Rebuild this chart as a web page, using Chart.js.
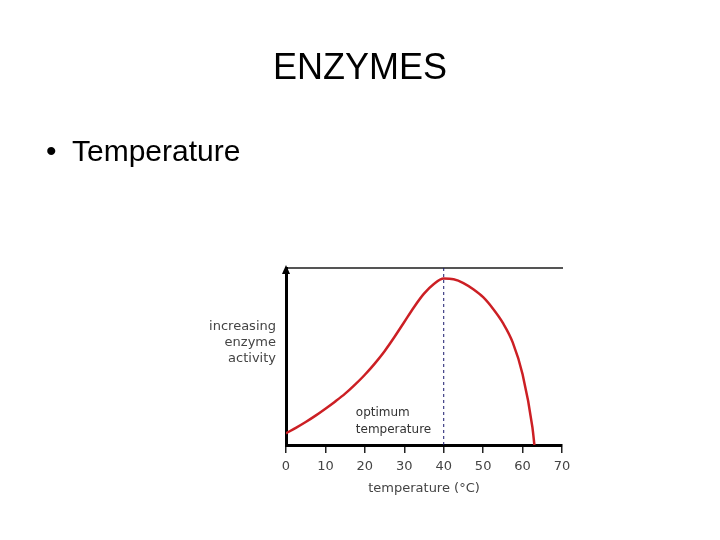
<!DOCTYPE html>
<html>
<head>
<meta charset="utf-8">
<script src="https://cdn.jsdelivr.net/npm/chart.js@4"></script>
<style>
  html, body { margin: 0; padding: 0; background: #fff; }
  #wrap { position: relative; width: 720px; height: 540px; overflow: hidden; }
  #chart { position: absolute; left: 0; top: 0; }
  .title { position: absolute; left: 0; width: 720px; top: 46px; text-align: center;
           font-family: "Liberation Sans", Arial, sans-serif; font-size: 36px; color: #000; }
  .bullet { position: absolute; left: 46px; top: 134px;
            font-family: "Liberation Sans", Arial, sans-serif; font-size: 30px; color: #000; }
  .bullet span { display: inline-block; width: 26px; }
</style>
</head>
<body>
<div id="wrap">
  <canvas id="chart" width="720" height="540"></canvas>
  <div class="title">ENZYMES</div>
  <div class="bullet"><span>&bull;</span>Temperature</div>
</div>
<script>
// temperature (C) and enzyme activity (arbitrary, 0-100)
const temps    = [0, 2.5, 5, 7.5, 10, 12.5, 15, 17.5, 20, 22.5, 25, 27.5, 30, 32.5, 35, 37.5,
                  40, 42.5, 45, 47.5, 50, 52.5, 55, 57.5, 60, 62.5, 63];
const activity = [6.6, 9.7, 13, 16.6, 20.5, 24.6, 29, 34.1, 39.7, 46, 53, 61, 69.5, 78, 85.5, 91,
                  94, 93.6, 91.5, 88, 83.5, 77, 69, 58, 40, 10, 0];
const optimumTemp = 40;
const xTicks = [0, 10, 20, 30, 40, 50, 60, 70];
const yLabel = ['increasing', 'enzyme', 'activity'];
const yLabelAt = 57.7;
const optimumLabel = ['optimum', 'temperature'];
const xTitle = 'temperature (\u00B0C)';

const font = '"DejaVu Sans", Verdana, sans-serif';

const extras = {
  id: 'extras',
  afterDraw(chart) {
    const ctx = chart.ctx;
    const x = chart.scales.x, y = chart.scales.y;
    const a = chart.chartArea;
    ctx.save();
    // arrow head on y axis
    ctx.fillStyle = '#000';
    ctx.beginPath();
    ctx.moveTo(a.left, a.top - 3);
    ctx.lineTo(a.left - 4, a.top + 6);
    ctx.lineTo(a.left + 4, a.top + 6);
    ctx.closePath();
    ctx.fill();
    // optimum label
    ctx.fillStyle = '#333';
    ctx.font = '12px ' + font;
    ctx.textAlign = 'left';
    ctx.textBaseline = 'middle';
    ctx.fillText(optimumLabel[0], x.getPixelForValue(17.7), y.getPixelForValue(18.4));
    ctx.fillText(optimumLabel[1], x.getPixelForValue(17.7), y.getPixelForValue(8.8));
    ctx.restore();
  }
};

new Chart(document.getElementById('chart'), {
  type: 'line',
  data: {
    datasets: [
      {
        label: 'activity',
        data: temps.map((t, i) => ({ x: t, y: activity[i] })),
        borderColor: '#cc1f24',
        borderWidth: 2.5,
        pointRadius: 0,
        cubicInterpolationMode: 'monotone',
        fill: false
      },
      {
        label: 'optimum',
        data: [{ x: optimumTemp, y: 0 }, { x: optimumTemp, y: 100 }],
        borderColor: '#1a1a6e',
        borderWidth: 1,
        borderDash: [3, 3],
        pointRadius: 0
      }
    ]
  },
  options: {
    responsive: false,
    animation: false,
    layout: { padding: { left: 0, top: 268, right: 158, bottom: 40 } },
    plugins: { legend: { display: false }, tooltip: { enabled: false } },
    scales: {
      x: {
        type: 'linear',
        min: 0, max: 70,
        afterBuildTicks: s => { s.ticks = xTicks.map(v => ({ value: v })); },
        afterFit: s => { s.height = 55; },
        border: { display: true, color: '#000', width: 3 },
        grid: { drawOnChartArea: false, drawTicks: true, tickLength: 8, color: '#222', lineWidth: 1.5 },
        ticks: { color: '#444', font: { family: font, size: 13 }, padding: 6, maxRotation: 0 },
        title: { display: true, text: xTitle, color: '#444', font: { family: font, size: 13 }, padding: { top: 0 } }
      },
      x2: {
        type: 'linear',
        position: 'top',
        min: 0, max: 70,
        afterFit: s => { s.height = 0; },
        border: { display: true, color: '#555', width: 2 },
        grid: { display: false, drawTicks: false },
        ticks: { display: false }
      },
      y: {
        min: 0, max: 100,
        afterBuildTicks: s => { s.ticks = [{ value: yLabelAt }]; },
        afterFit: s => { s.width = 286; },
        border: { display: true, color: '#000', width: 3 },
        grid: { display: false },
        ticks: {
          color: '#444',
          font: { family: font, size: 13, lineHeight: 1.25 },
          padding: 2,
          callback: () => yLabel
        }
      }
    }
  },
  plugins: [extras]
});
</script>
</body>
</html>
